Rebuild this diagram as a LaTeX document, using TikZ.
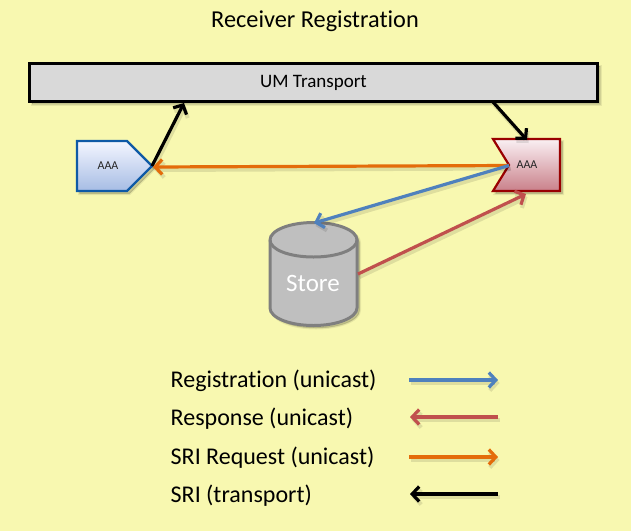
\documentclass[tikz,border=0pt]{standalone}
\usepackage{fontspec}
\setmainfont{Carlito}[Ligatures=NoCommon]
\usetikzlibrary{arrows.meta}
\definecolor{bgc}{HTML}{F8F8B0}
\definecolor{bluel}{HTML}{4F81BD}
\definecolor{redl}{HTML}{C0504D}
\definecolor{orangel}{HTML}{E46C0A}
\definecolor{blueb}{HTML}{0F5AA6}
\definecolor{redb}{HTML}{990000}
\definecolor{storeb}{HTML}{7F7F7F}
\definecolor{storef}{HTML}{BFBFBF}
\definecolor{bluetop}{HTML}{F4F6FF}
\definecolor{bluemid}{HTML}{DDE5F6}
\definecolor{bluebot}{HTML}{A6BCE4}
\definecolor{redtop}{HTML}{FAF0F3}
\definecolor{redmid}{HTML}{F0DDE1}
\definecolor{redbot}{HTML}{C9808A}
\tikzset{
  softshadow/.style={
    preaction={draw=black,line width=#1+3pt,opacity=.07,fill=black,fill opacity=.07,transform canvas={shift={(2.5pt,-2.5pt)}}},
    preaction={draw=black,line width=#1+1pt,opacity=.09,fill=black,fill opacity=.09,transform canvas={shift={(2.5pt,-2.5pt)}}},
  },
  flow/.style={line width=3.2pt,-{Straight Barb[length=7pt,width=15pt,line width=3.2pt]},
    preaction={draw=black,opacity=.1,line width=4pt,-{Straight Barb[length=7pt,width=15pt,line width=4pt]},transform canvas={shift={(1.5pt,-3pt)}}}},
  lbl/.style={font=\fontsize{24}{28}\selectfont,anchor=base west,inner sep=0pt},
  small/.style={font=\fontsize{12}{14}\selectfont,text=black!85,inner sep=0pt},
}
\begin{document}
\begin{tikzpicture}[x=1pt,y=-1pt]
\fill[bgc] (0,0) rectangle (631,531);
\useasboundingbox (0,0) rectangle (631,531);

\node[font=\fontsize{24.3}{28}\selectfont,inner sep=0pt] (title) at (315,21) {Receiver Registration};

% transport
\node[draw=black,fill=black!15,line width=3pt,minimum width=568pt,minimum height=38pt,inner sep=0pt,
  softshadow=0pt,font=\fontsize{19}{22}\selectfont] (um) at (313.5,82.5) {UM Transport};

% source
\draw[softshadow=0pt,draw=blueb,line width=2.2pt,top color=bluetop,middle color=bluemid,bottom color=bluebot]
  (77,141) -- (127,141) -- (152,166) -- (127,191) -- (77,191) -- cycle;
\coordinate (srctip) at (152,166);
\node[small] (src) at (108,166) {AAA};

% receiver
\draw[softshadow=0pt,draw=redb,line width=2.2pt,top color=redtop,middle color=redmid,bottom color=redbot]
  (493,139) -- (560,139) -- (560,191) -- (493,191) -- (509,165) -- cycle;
\coordinate (rcvnotch) at (509,165.5);
\coordinate (rcvtop) at (527,140);
\coordinate (rcvbot) at (526,194);
\node[small] (rcv) at (527,165) {AAA};

% store
\draw[softshadow=0pt,draw=storeb,line width=3pt,fill=storef]
  (270,240) .. controls (270,230.3) and (289.5,222.5) .. (313.5,222.5)
  .. controls (337.5,222.5) and (357,230.3) .. (357,240)
  -- (357,308) .. controls (357,317.7) and (337.5,325.5) .. (313.5,325.5)
  .. controls (289.5,325.5) and (270,317.7) .. (270,308) -- cycle;
\draw[draw=storeb,line width=3pt] (270,240) .. controls (270,249.7) and (289.5,257) .. (313.5,257)
  .. controls (337.5,257) and (357,249.7) .. (357,240);
\node[text=white,font=\fontsize{25}{29}\selectfont,inner sep=0pt] (store) at (313,283) {Store};
\coordinate (storetop) at (314,223);
\coordinate (storeright) at (358,274);

% connectors
\coordinate (umleft) at (184,103);
\coordinate (umright) at (493,102);
\coordinate (srcin) at (153,167);
\draw[flow,black] (srctip) -- (umleft);
\draw[flow,black] (umright) -- (rcvtop);
\draw[flow,orangel] (rcvnotch) -- (srcin);
\draw[flow,bluel] (rcvnotch) -- (storetop);
\draw[flow,redl] (storeright) -- (rcvbot);

% legend
\node[lbl] (l1) at (170.5,387) {Registration (unicast)};
\node[lbl] (l2) at (170.5,425) {Response (unicast)};
\node[lbl] (l3) at (170.5,464) {SRI Request (unicast)};
\node[lbl] (l4) at (170.5,502) {SRI (transport)};
\coordinate (a1) at (409,380); \coordinate (b1) at (498,380);
\coordinate (a2) at (498,417); \coordinate (b2) at (410,417);
\coordinate (a3) at (409,457); \coordinate (b3) at (498,457);
\coordinate (a4) at (498,494); \coordinate (b4) at (410,494);
\draw[flow,bluel] (a1) -- (b1);
\draw[flow,redl] (a2) -- (b2);
\draw[flow,orangel] (a3) -- (b3);
\draw[flow,black] (a4) -- (b4);
\end{tikzpicture}
\end{document}
